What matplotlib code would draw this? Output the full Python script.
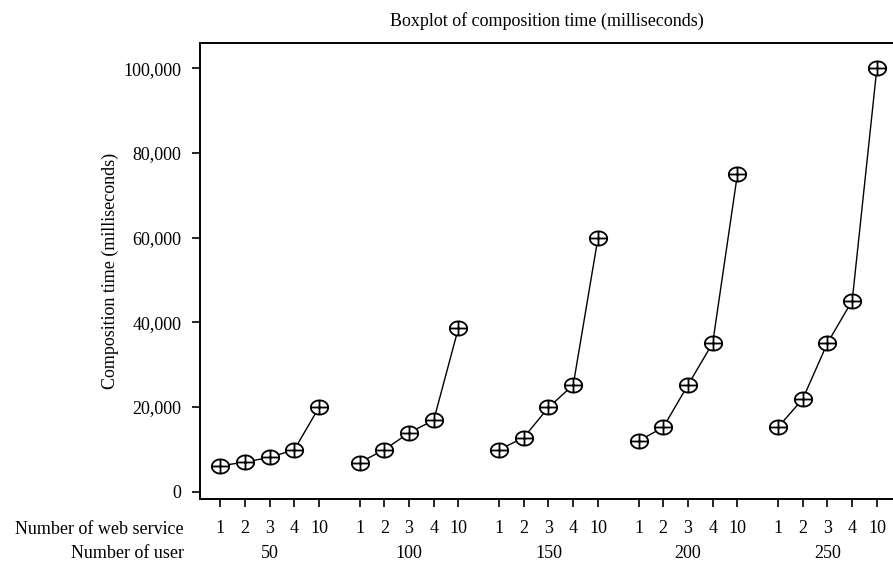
import numpy as np
import matplotlib.pyplot as plt
from matplotlib.path import Path

# data
users = ["50", "100", "150", "200", "250"]
services = ["1", "2", "3", "4", "10"]
time_50 = [6100, 7000, 8100, 9900, 19900]
time_100 = [6900, 9900, 13900, 16900, 38700]
time_150 = [9900, 12800, 19900, 25200, 59900]
time_200 = [12000, 15200, 25200, 35100, 75000]
time_250 = [15200, 21900, 35100, 45100, 100100]
all_times = [time_50, time_100, time_150, time_200, time_250]

plt.rcParams['font.family'] = ['Liberation Serif', 'DejaVu Serif']

# circled plus marker, a bit squashed like the original
t = np.linspace(0, 2 * np.pi, 60)
ring = Path(np.column_stack([np.cos(t), 0.82 * np.sin(t)]), closed=True)
cross = Path([[-1, 0], [1, 0], [0, -0.82], [0, 0.82]],
             [Path.MOVETO, Path.LINETO, Path.MOVETO, Path.LINETO])
oplus = Path.make_compound_path(ring, cross)

fig = plt.figure(figsize=(8.93, 5.61), dpi=100)
ax = fig.add_axes([0.224, 0.1105, 0.776, 0.8125])

group_step = 5.64
xpos = []
for g, vals in enumerate(all_times):
    x = g * group_step + np.arange(len(services))
    xpos.extend(x)
    ax.plot(x, vals, color='black', lw=1.0, zorder=2)
    ax.plot(x, vals, linestyle='none', marker=oplus, markersize=12.5,
            markerfacecolor='white', markeredgecolor='black',
            markeredgewidth=1.3, zorder=3)

ax.set_xlim(-0.81, 4 * group_step + 4 + 0.65)
ax.set_ylim(-1720, 105900)

ax.set_yticks([0, 20000, 40000, 60000, 80000, 100000])
ax.set_yticklabels(["0", "20,000", "40,000", "60,000", "80,000", "100,000"])
ax.set_xticks(xpos)
ax.set_xticklabels(services * len(users))
ax.tick_params(axis='both', direction='out', length=6, width=1.2,
               labelsize=13, colors='black')
ax.tick_params(axis='x', pad=9)
ax.tick_params(axis='y', pad=7.5)

for s in ['left', 'top', 'bottom']:
    ax.spines[s].set_linewidth(1.4)
ax.spines['right'].set_visible(False)

ax.set_ylabel("Composition time (milliseconds)", fontsize=13, labelpad=3)
fig.text(0.612, 0.962, "Boxplot of composition time (milliseconds)",
         ha='center', va='center', fontsize=13)

# second row of x labels (number of users)
for g, u in enumerate(users):
    xd = ax.transData.transform((g * group_step + 2, 0))[0] / fig.bbox.width
    fig.text(xd, 1 - 558 / 561, u, ha='center', va='baseline', fontsize=13)

fig.text(184 / 893, 1 - 534 / 561, "Number of web service",
         ha='right', va='baseline', fontsize=13)
fig.text(184 / 893, 1 - 558 / 561, "Number of user",
         ha='right', va='baseline', fontsize=13)

fig.savefig("out.png", dpi=100)
